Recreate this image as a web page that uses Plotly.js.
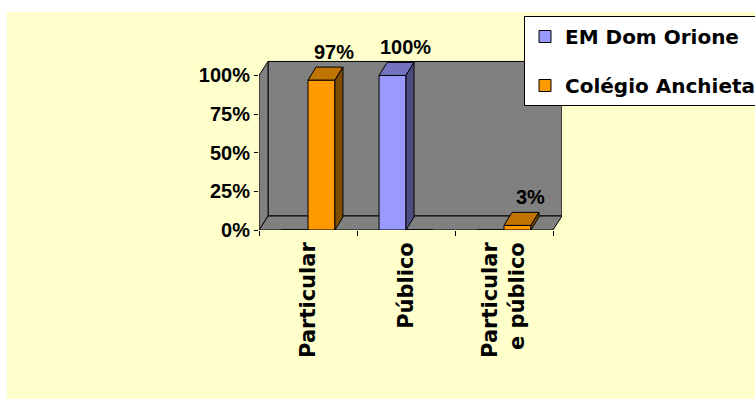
<!DOCTYPE html>
<html>
<head>
<meta charset="utf-8">
<script src="https://cdn.plot.ly/plotly-3.0.1.min.js"></script>
<style>
  html, body { margin: 0; padding: 0; background: #ffffff; }
  #chart { width: 755px; height: 399px; }
</style>
</head>
<body>
<div id="chart"></div>
<script>
// Categories, series and tick labels
const categories = ['Particular', 'Público', 'Particular e público'];
const categoryLabels = ['Particular', 'Público', 'Particular<br>e público'];
const seriesNames = ['EM Dom Orione', 'Colégio Anchieta'];
const domOrione = [0, 100, 0];
const colegioAnchieta = [97, 0, 3];
const yTickValues = [0, 25, 50, 75, 100];
const yTickLabels = ['0%', '25%', '50%', '75%', '100%'];

// Styling
const seriesColors = [
  { front: '#9999FF', top: '#7373BF', side: '#4D4D80' },
  { front: '#FF9900', top: '#BF7300', side: '#804D00' }
];
const W = 755, H = 399;
const margin = { l: 259, r: 193, t: 60, b: 169, pad: 0, autoexpand: false };
const plotW = W - margin.l - margin.r;
const plotH = H - margin.t - margin.b;
const wallDepth = { dx: 9, dy: 14 };
const barDepth = { dx: 8, dy: 13 };
const catPx = (plotW - wallDepth.dx) / categories.length;
const yMax = 110;
const yPx = plotH / yMax;
const ux = px => px / catPx;
const uy = px => px / yPx;
const bargap = 0.45;
const seriesValues = [domOrione, colegioAnchieta];
const nSeries = seriesValues.length;
const bw = (1 - bargap) / nSeries;
const wallTop = yTickValues[yTickValues.length - 1];

// pixel -> paper helpers for the background panel and legend
const paperX = px => (px - margin.l) / plotW;
const paperY = py => (H - margin.b - py) / plotH;

const L = -0.5, R = categories.length - 0.5;
const line = { color: '#000000', width: 1 };
const gray = '#808080';

const shapes = [
  // chart area panel
  { type: 'rect', xref: 'paper', yref: 'paper', layer: 'below',
    x0: paperX(7), x1: paperX(W + 5), y0: paperY(H + 5), y1: paperY(12),
    fillcolor: '#FFFFCC', line: { width: 0 } },
  // back wall
  { type: 'rect', xref: 'x', yref: 'y', layer: 'below',
    x0: L + ux(wallDepth.dx), x1: R + ux(wallDepth.dx),
    y0: uy(wallDepth.dy), y1: wallTop + uy(wallDepth.dy),
    fillcolor: gray, line: line },
  // floor
  { type: 'path', xref: 'x', yref: 'y', layer: 'below',
    path: `M${L},0 L${R},0 L${R + ux(wallDepth.dx)},${uy(wallDepth.dy)} L${L + ux(wallDepth.dx)},${uy(wallDepth.dy)} Z`,
    fillcolor: gray, line: line },
  // side wall
  { type: 'path', xref: 'x', yref: 'y', layer: 'below',
    path: `M${L},0 L${L},${wallTop} L${L + ux(wallDepth.dx)},${wallTop + uy(wallDepth.dy)} L${L + ux(wallDepth.dx)},${uy(wallDepth.dy)} Z`,
    fillcolor: gray, line: line }
];

const annotations = [];
const traces = [];

seriesValues.forEach((vals, s) => {
  traces.push({
    type: 'bar',
    x: categories,
    y: vals,
    name: seriesNames[s],
    legendgroup: 'g' + s,
    marker: { color: seriesColors[s].front, line: line },
    hoverinfo: 'skip'
  });
  vals.forEach((v, j) => {
    if (!(v > 0)) return;
    const c = j + (s - (nSeries - 1) / 2) * bw;
    const x0 = c - bw / 2, x1 = c + bw / 2;
    const ddx = ux(barDepth.dx), ddy = uy(barDepth.dy);
    // top face
    shapes.push({ type: 'path', xref: 'x', yref: 'y', layer: 'above',
      path: `M${x0},${v} L${x1},${v} L${x1 + ddx},${v + ddy} L${x0 + ddx},${v + ddy} Z`,
      fillcolor: seriesColors[s].top, line: line });
    // side face
    shapes.push({ type: 'path', xref: 'x', yref: 'y', layer: 'above',
      path: `M${x1},0 L${x1},${v} L${x1 + ddx},${v + ddy} L${x1 + ddx},${ddy} Z`,
      fillcolor: seriesColors[s].side, line: line });
    // value label
    annotations.push({
      x: c, y: v, xref: 'x', yref: 'y',
      text: v + '%', showarrow: false,
      xanchor: 'center', yanchor: 'middle',
      xshift: 13, yshift: 28,
      font: { family: 'Liberation Sans, Arial, sans-serif', size: 20, weight: 'bold', color: '#000000' }
    });
  });
});

const layout = {
  width: W, height: H,
  margin: margin,
  paper_bgcolor: '#FFFFFF',
  plot_bgcolor: 'rgba(0,0,0,0)',
  barmode: 'group',
  bargap: bargap,
  bargroupgap: 0,
  showlegend: true,
  legend: {
    x: paperX(524), y: paperY(16), xanchor: 'left', yanchor: 'top',
    bgcolor: '#FFFFFF', bordercolor: '#000000', borderwidth: 1,
    tracegroupgap: 20,
    font: { family: 'DejaVu Sans, sans-serif', size: 20, weight: 'bold', color: '#000000' }
  },
  xaxis: {
    type: 'category',
    range: [L, R + ux(wallDepth.dx)],
    tickmode: 'array',
    tickvals: categories,
    ticktext: categoryLabels,
    tickson: 'boundaries',
    ticks: 'outside', ticklen: 5, tickcolor: '#000000', tickwidth: 1,
    tickangle: -90,
    ticklabelstandoff: 7,
    tickfont: { family: 'DejaVu Sans, sans-serif', size: 21, weight: 'bold', color: '#000000' },
    showline: false, showgrid: false, zeroline: false, fixedrange: true
  },
  yaxis: {
    range: [0, yMax],
    tickmode: 'array',
    tickvals: yTickValues,
    ticktext: yTickLabels,
    ticks: 'outside', ticklen: 4, tickcolor: '#000000', tickwidth: 1,
    tickfont: { family: 'Liberation Sans, Arial, sans-serif', size: 20, weight: 'bold', color: '#000000' },
    showline: false, showgrid: false, zeroline: false, fixedrange: true
  },
  shapes: shapes,
  annotations: annotations
};

Plotly.newPlot('chart', traces, layout, { displayModeBar: false, staticPlot: true });
</script>
</body>
</html>
